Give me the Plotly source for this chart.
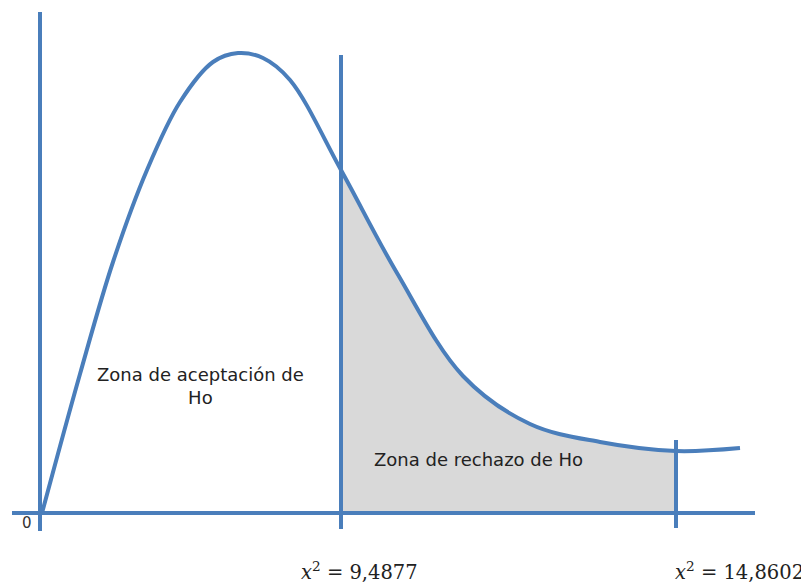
import plotly.graph_objects as go

# Diagram coordinates (pixel-like units of the original drawing; y grows downward)
curve_x = [42, 80, 113, 147, 180, 213, 238, 263, 290, 341, 397, 463, 530, 600, 676, 740]
curve_y = [513, 374, 262, 170, 102, 62, 53, 58, 80, 170, 273, 376, 424, 442, 451, 448]

baseline_y = 513
axis_x_range = [12, 755]
yaxis_line_x = 40
yaxis_line_range = [12, 531]
crit1_x = 341
crit1_range = [55, 529]
crit2_x = 676
crit2_range = [440, 528]

labels = {
    "zero": "0",
    "accept": "Zona de aceptación de<br>Ho",
    "reject": "Zona de rechazo de Ho",
    "crit1": "<i>x</i><sup>2</sup> = 9,4877",
    "crit2": "<i>x</i><sup>2</sup> = 14,8602",
}

BLUE = "#4A7EBB"
SMOOTH = 1.0

fig = go.Figure()

# gray fill under the whole curve, then white masks outside the rejection zone
fig.add_trace(go.Scatter(x=[curve_x[0], curve_x[-1]], y=[baseline_y, baseline_y], mode="lines",
                         line=dict(width=0, color="rgba(0,0,0,0)"), hoverinfo="skip"))
fig.add_trace(go.Scatter(x=curve_x, y=curve_y, fill="tonexty", fillcolor="#D9D9D9", mode="lines",
                         line=dict(width=0, color="rgba(0,0,0,0)", shape="spline", smoothing=SMOOTH),
                         hoverinfo="skip"))
for x0, x1 in [(0, crit1_x), (crit2_x, 809)]:
    fig.add_trace(go.Scatter(x=[x0, x1, x1, x0, x0], y=[0, 0, baseline_y, baseline_y, 0],
                             fill="toself", fillcolor="white", mode="lines",
                             line=dict(width=0, color="white"), hoverinfo="skip"))

# axes lines
fig.add_trace(go.Scatter(x=axis_x_range, y=[baseline_y, baseline_y], mode="lines",
                         line=dict(color=BLUE, width=4)))
fig.add_trace(go.Scatter(x=[yaxis_line_x, yaxis_line_x], y=yaxis_line_range, mode="lines",
                         line=dict(color=BLUE, width=4)))
fig.add_trace(go.Scatter(x=[crit1_x, crit1_x], y=crit1_range, mode="lines",
                         line=dict(color=BLUE, width=4)))
fig.add_trace(go.Scatter(x=[crit2_x, crit2_x], y=crit2_range, mode="lines",
                         line=dict(color=BLUE, width=4)))

# curve
fig.add_trace(go.Scatter(x=curve_x, y=curve_y, mode="lines",
                         line=dict(color=BLUE, width=4, shape="spline", smoothing=SMOOTH)))

txt_font = dict(family="DejaVu Sans", size=18, color="#222222")
math_font = dict(family="DejaVu Serif", size=19.5, color="#222222")

fig.add_annotation(x=27, y=523, text=labels["zero"], showarrow=False,
                   font=dict(family="DejaVu Sans", size=15, color="#333333"))
fig.add_annotation(x=200, y=386, text=labels["accept"], showarrow=False, font=txt_font,
                   align="center")
fig.add_annotation(x=478, y=459, text=labels["reject"], showarrow=False, font=txt_font)
fig.add_annotation(x=359, y=571, text=labels["crit1"], showarrow=False, font=math_font)
fig.add_annotation(x=806, y=571, text=labels["crit2"], showarrow=False, font=math_font,
                   xanchor="right")

fig.update_layout(
    width=801, height=577, margin=dict(l=0, r=0, t=0, b=0),
    paper_bgcolor="white", plot_bgcolor="white", showlegend=False,
    xaxis=dict(range=[8, 809], visible=False, fixedrange=True),
    yaxis=dict(range=[585, 8], visible=False, fixedrange=True),
)

fig.write_html("out.html")
